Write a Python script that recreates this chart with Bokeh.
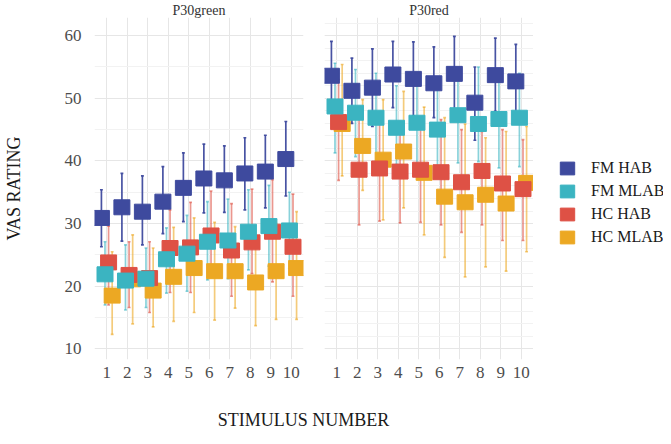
from bokeh.plotting import figure
from bokeh.layouts import column, row
from bokeh.models import ColumnDataSource, Legend, LegendItem, Range1d, FixedTicker, Label
from bokeh.embed import file_html
from bokeh.resources import INLINE

stimulus = [1, 2, 3, 4, 5, 6, 7, 8, 9, 10]
groups = ["FM HAB", "FM MLAB", "HC HAB", "HC MLAB"]
panels = ["P30green", "P30red"]

# P30green
green_fm_hab = [30.9, 32.6, 31.9, 33.5, 35.7, 37.2, 36.9, 38.0, 38.3, 40.3]
green_fm_hab_lo = [26.3, 27.2, 26.6, 28.4, 30.3, 31.7, 31.8, 32.2, 32.5, 34.4]
green_fm_hab_hi = [35.4, 38.0, 37.6, 39.1, 41.3, 42.7, 42.4, 43.7, 44.1, 46.3]
green_fm_mlab = [21.9, 20.9, 21.2, 24.3, 25.2, 27.1, 27.3, 28.7, 29.6, 28.9]
green_fm_mlab_lo = [17.0, 16.2, 16.6, 18.9, 19.2, 21.0, 21.2, 22.6, 23.2, 22.8]
green_fm_mlab_hi = [27.1, 26.6, 26.1, 29.3, 31.3, 33.5, 33.9, 35.4, 36.1, 35.0]
green_hc_hab = [23.8, 21.8, 21.3, 26.1, 26.2, 28.1, 25.7, 27.0, 28.7, 26.3]
green_hc_hab_lo = [17.0, 16.6, 15.8, 19.0, 19.0, 21.5, 18.4, 22.0, 20.7, 18.4]
green_hc_hab_hi = [29.6, 27.1, 27.1, 32.2, 33.4, 35.2, 33.2, 35.5, 37.0, 34.7]
green_hc_mlab = [18.5, 21.1, 19.3, 21.5, 22.9, 22.4, 22.4, 20.6, 22.4, 22.9]
green_hc_mlab_lo = [12.3, 14.0, 13.5, 14.4, 15.8, 14.6, 16.5, 13.7, 14.7, 14.7]
green_hc_mlab_hi = [25.5, 28.2, 26.1, 29.4, 30.9, 30.2, 29.5, 27.5, 30.0, 31.9]

# P30red
red_fm_hab = [53.6, 51.2, 51.7, 53.8, 53.1, 52.4, 53.9, 49.3, 53.7, 52.7]
red_fm_hab_lo = [48.1, 46.0, 45.5, 48.5, 47.2, 46.9, 48.0, 43.3, 47.9, 46.8]
red_fm_hab_hi = [59.1, 56.4, 57.9, 59.1, 59.0, 58.2, 59.9, 55.0, 59.6, 58.6]
red_fm_mlab = [48.7, 47.7, 46.9, 45.3, 46.1, 45.0, 47.3, 45.9, 46.7, 46.9]
red_fm_mlab_lo = [41.3, 40.7, 39.9, 39.4, 39.0, 38.5, 39.7, 39.9, 38.9, 39.1]
red_fm_mlab_hi = [55.6, 54.6, 54.0, 52.0, 53.0, 51.5, 54.0, 55.0, 54.5, 54.0]
red_hc_hab = [46.2, 38.6, 38.8, 38.3, 38.6, 38.2, 36.6, 38.4, 36.4, 35.5]
red_hc_hab_lo = [36.9, 29.8, 30.4, 30.1, 30.2, 29.8, 28.6, 29.8, 27.3, 27.3]
red_hc_hab_hi = [53.0, 46.9, 46.8, 46.3, 46.5, 46.6, 45.0, 44.7, 45.0, 43.4]
red_hc_mlab = [45.9, 42.4, 40.2, 41.5, 38.1, 34.3, 33.4, 34.6, 33.2, 36.5]
red_hc_mlab_lo = [37.6, 35.3, 30.6, 32.5, 28.2, 24.6, 21.5, 23.1, 22.4, 25.5]
red_hc_mlab_hi = [55.4, 49.8, 49.8, 51.1, 48.6, 46.9, 45.9, 43.7, 44.7, 45.5]

y_ticks = [10, 20, 30, 40, 50, 60]
y_minor = [15, 25, 35, 45, 55]

data = {
    "P30green": {
        "FM HAB": (green_fm_hab, green_fm_hab_lo, green_fm_hab_hi),
        "FM MLAB": (green_fm_mlab, green_fm_mlab_lo, green_fm_mlab_hi),
        "HC HAB": (green_hc_hab, green_hc_hab_lo, green_hc_hab_hi),
        "HC MLAB": (green_hc_mlab, green_hc_mlab_lo, green_hc_mlab_hi),
    },
    "P30red": {
        "FM HAB": (red_fm_hab, red_fm_hab_lo, red_fm_hab_hi),
        "FM MLAB": (red_fm_mlab, red_fm_mlab_lo, red_fm_mlab_hi),
        "HC HAB": (red_hc_hab, red_hc_hab_lo, red_hc_hab_hi),
        "HC MLAB": (red_hc_mlab, red_hc_mlab_lo, red_hc_mlab_hi),
    },
}

colors = {"FM HAB": "#3E4A9E", "FM MLAB": "#3BB4C1", "HC HAB": "#DE5145", "HC MLAB": "#ECA823"}
bar_alpha = {"FM HAB": 0.95, "FM MLAB": 0.6, "HC HAB": 0.6, "HC MLAB": 0.6}
dodge = {"FM HAB": -0.2625, "FM MLAB": -0.0875, "HC HAB": 0.0875, "HC MLAB": 0.2625}
draw_order = ["HC MLAB", "HC HAB", "FM MLAB", "FM HAB"]

FONT = "Liberation Serif"
y_range = Range1d(8.3, 62.9)


def make_panel(name, first):
    kw = dict(
        frame_width=209, frame_height=342,
        x_range=Range1d(0.4, 10.6), y_range=y_range,
        output_backend="svg", toolbar_location=None,
        min_border_top=16, min_border_bottom=24,
        title=name,
    )
    if first:
        kw.update(min_border_left=85, min_border_right=10)
    else:
        kw.update(min_border_left=11, min_border_right=0, y_axis_location=None)
    p = figure(**kw)
    p.outline_line_color = None
    p.title.align = "center"
    p.title.text_font = FONT
    p.title.text_font_size = "14px"
    p.title.text_font_style = "normal"
    p.title.text_color = "#333333"
    p.title.standoff = 0

    p.xaxis.ticker = FixedTicker(ticks=stimulus)
    p.yaxis.ticker = FixedTicker(ticks=y_ticks, minor_ticks=y_minor)
    for ax in p.axis:
        ax.axis_line_color = None
        ax.major_tick_line_color = None
        ax.minor_tick_line_color = None
        ax.major_label_text_font = FONT
        ax.major_label_text_font_size = "17px"
        ax.major_label_text_color = "#4d4d4d"
    p.xaxis.major_label_standoff = 1
    if first:
        p.yaxis.major_label_standoff = 7
        p.yaxis.axis_label = "VAS RATING"
        p.yaxis.axis_label_text_font = FONT
        p.yaxis.axis_label_text_font_size = "18px"
        p.yaxis.axis_label_text_font_style = "normal"
        p.yaxis.axis_label_text_color = "#1a1a1a"
        p.yaxis.axis_label_standoff = 38
    p.xgrid.grid_line_color = "#e6e6e6"
    p.ygrid.grid_line_color = "#e6e6e6"
    p.ygrid.minor_grid_line_color = "#f2f2f2"

    for g in draw_order:
        mean, lo, hi = data[name][g]
        xs = [s + dodge[g] for s in stimulus]
        src = ColumnDataSource(dict(
            x=xs, y=mean, lo=lo, hi=hi,
            xl=[x - 0.07 for x in xs], xr=[x + 0.07 for x in xs],
        ))
        p.segment(x0="x", y0="lo", x1="x", y1="hi", source=src,
                  line_color=colors[g], line_alpha=bar_alpha[g], line_width=1.7)
        p.segment(x0="xl", y0="hi", x1="xr", y1="hi", source=src,
                  line_color=colors[g], line_alpha=bar_alpha[g], line_width=1.7)
        p.segment(x0="xl", y0="lo", x1="xr", y1="lo", source=src,
                  line_color=colors[g], line_alpha=bar_alpha[g], line_width=1.7)
    for g in draw_order:
        mean, lo, hi = data[name][g]
        xs = [s + dodge[g] for s in stimulus]
        src = ColumnDataSource(dict(x=xs, y=mean))
        p.rect(x="x", y="y", width=16, height=15, width_units="screen",
               height_units="screen", source=src,
               fill_color=colors[g], line_color=colors[g])
    return p


p1 = make_panel("P30green", True)
p2 = make_panel("P30red", False)

# legend panel (legend keys drawn from off-range proxy glyphs)
p4 = figure(width=130, frame_height=342, output_backend="svg", toolbar_location=None,
            x_range=Range1d(0, 1), y_range=Range1d(0, 1),
            x_axis_location=None, y_axis_location=None,
            min_border=0, min_border_top=16, min_border_bottom=24)
p4.outline_line_color = None
p4.grid.visible = False
items = []
for g in groups:
    r = p4.rect(x="x", y="y", width=16, height=15, width_units="screen",
                height_units="screen", source=ColumnDataSource(dict(x=[-9.0], y=[-9.0])),
                fill_color=colors[g], line_color=colors[g])
    items.append(LegendItem(label=g, renderers=[r]))
legend = Legend(
    items=items,
    location=(25, 113),
    label_text_font=FONT,
    label_text_font_size="16px",
    label_text_color="#1a1a1a",
    glyph_width=18, glyph_height=16,
    spacing=5, padding=4, margin=0,
    label_standoff=15,
    border_line_color=None,
    background_fill_alpha=0,
)
p4.add_layout(legend)

p3 = figure(width=655, height=46, output_backend="svg", toolbar_location=None,
            x_range=Range1d(0, 1), y_range=Range1d(0, 1),
            x_axis_location=None, y_axis_location=None, min_border=0)
p3.outline_line_color = None
p3.grid.visible = False
p3.add_layout(Label(x=303, y=0, x_units="screen", y_units="screen",
                    text="STIMULUS NUMBER", text_align="center", text_baseline="bottom",
                    text_font=FONT, text_font_size="18px", text_color="#1a1a1a"))

layout = column(row(p1, p2, p4), p3)
open("out.html", "w").write(file_html(layout, INLINE))
